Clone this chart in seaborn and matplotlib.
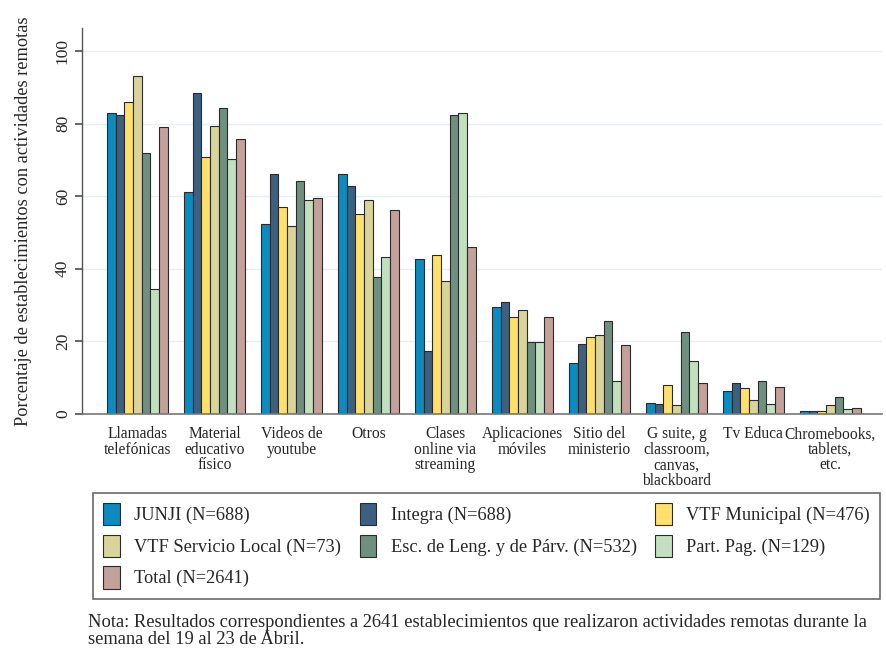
import numpy as np
import pandas as pd
import seaborn as sns
import matplotlib.pyplot as plt

# ============================================
# DATA
# ============================================

categories = [
    "Llamadas\ntelefónicas",
    "Material\neducativo\nfísico",
    "Videos de\nyoutube",
    "Otros",
    "Clases\nonline via\nstreaming",
    "Aplicaciones\nmóviles",
    "Sitio del\nministerio",
    "G suite, g\nclassroom,\ncanvas,\nblackboard",
    "Tv Educa",
    "Chromebooks,\ntablets,\netc.",
]

groups = [
    "JUNJI (N=688)",
    "Integra (N=688)",
    "VTF Municipal (N=476)",
    "VTF Servicio Local (N=73)",
    "Esc. de Leng. y de Párv. (N=532)",
    "Part. Pag. (N=129)",
    "Total (N=2641)",
]

junji = [82.8, 61.0, 52.3, 66.1, 42.6, 29.6, 14.0, 3.0, 6.3, 0.8]
integra = [82.4, 88.5, 66.1, 62.8, 17.4, 30.9, 19.2, 2.8, 8.6, 0.8]
vtf_municipal = [85.8, 70.9, 56.9, 55.1, 43.9, 26.6, 21.1, 8.0, 7.1, 0.7]
vtf_servicio_local = [93.1, 79.3, 51.8, 58.8, 36.7, 28.6, 21.7, 2.4, 3.9, 2.5]
esc_leng_parv = [71.8, 84.4, 64.3, 37.8, 82.4, 19.8, 25.7, 22.7, 9.0, 4.6]
part_pag = [34.5, 70.3, 58.8, 43.2, 82.8, 19.8, 9.0, 14.5, 2.8, 1.3]
total = [78.9, 75.7, 59.5, 56.2, 46.1, 26.8, 18.9, 8.4, 7.3, 1.6]

series = [junji, integra, vtf_municipal, vtf_servicio_local,
          esc_leng_parv, part_pag, total]

colors = ["#0b8bbf", "#3d5f80", "#ffe06b", "#d8d49c",
          "#6f9080", "#c2dfc0", "#c4a09a"]

df = pd.DataFrame({
    "Actividad": categories * len(groups),
    "Grupo": np.repeat(groups, len(categories)),
    "Porcentaje": np.concatenate(series),
})

# ============================================
# THEME
# ============================================

sns.set_theme(style="white")
plt.rcParams["font.family"] = ["Liberation Serif", "DejaVu Serif"]

fig = plt.figure(figsize=(8.86, 6.52), dpi=100)
ax = fig.add_axes([82 / 886, 1 - 414 / 652, 800 / 886, 386 / 652])

sns.barplot(
    data=df,
    x="Actividad",
    y="Porcentaje",
    hue="Grupo",
    hue_order=groups,
    order=categories,
    palette=colors,
    saturation=1,
    width=0.79,
    edgecolor="#2a2a2a",
    linewidth=0.8,
    ax=ax,
)

ax.set_ylim(0, 106.3)
ax.set_xlim(-0.72, 9.67)
ax.set_yticks([0, 20, 40, 60, 80, 100])
ax.yaxis.grid(True, color="#e6eff1", linewidth=1.0)
ax.set_axisbelow(True)

for side in ["top", "right"]:
    ax.spines[side].set_visible(False)
ax.spines["left"].set_color("#555555")
ax.spines["bottom"].set_color("#777777")
ax.spines["left"].set_linewidth(1.0)
ax.spines["bottom"].set_linewidth(1.2)

ax.tick_params(axis="y", length=5, color="#555555", labelsize=12.5,
               labelrotation=90, left=True, pad=3)
for lab in ax.get_yticklabels():
    lab.set_va("center")
ax.tick_params(axis="x", length=0, labelsize=11.2, pad=9)
for lab in ax.get_xticklabels():
    lab.set_linespacing(0.95)

ax.set_xlabel("")
ax.set_ylabel("Porcentaje de establecimientos con actividades remotas",
              fontsize=13.2)
ax.yaxis.set_label_coords(-0.0625, 0.5)

# ============================================
# LEGEND + NOTE
# ============================================

handles, labels = ax.get_legend_handles_labels()
ax.legend_.remove()
# row-wise order for a 3 column legend
order = [0, 3, 6, 1, 4, 2, 5]
leg = fig.legend(
    [handles[i] for i in order], [labels[i] for i in order],
    loc="upper left",
    bbox_to_anchor=(93 / 886, 1 - 493 / 652, 787 / 886, 0.0),
    mode="expand",
    borderaxespad=0,
    ncol=3,
    frameon=True,
    fancybox=False,
    edgecolor="#444444",
    fontsize=13.2,
    handlelength=0.9,
    handleheight=1.5,
    handletextpad=0.8,
    labelspacing=0.5,
    borderpad=0.55,
    columnspacing=1.0,
)
leg.get_frame().set_linewidth(1.2)

fig.text(
    88 / 886, 1 - 614 / 652,
    "Nota: Resultados correspondientes a 2641 establecimientos que realizaron "
    "actividades remotas durante la\nsemana del 19 al 23 de Abril.",
    fontsize=13.3, va="top", ha="left", linespacing=1.0,
)

fig.savefig("out.png", dpi=100)
